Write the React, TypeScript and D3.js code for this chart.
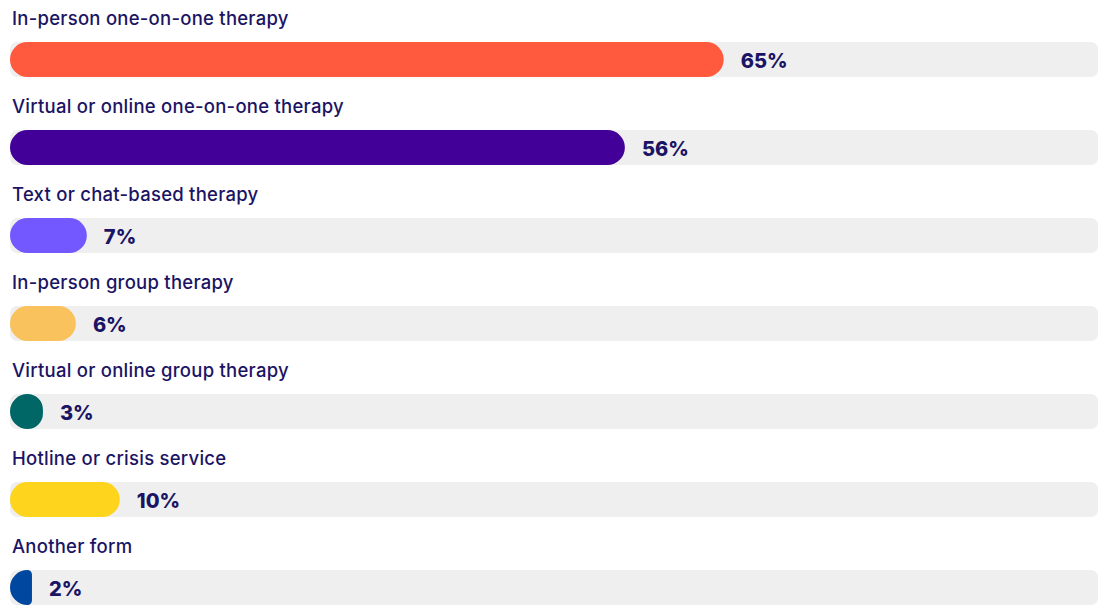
import React from "react";
import * as d3 from "d3";

const categories = [
  "In-person one-on-one therapy",
  "Virtual or online one-on-one therapy",
  "Text or chat-based therapy",
  "In-person group therapy",
  "Virtual or online group therapy",
  "Hotline or crisis service",
  "Another form",
];
const values = [65, 56, 7, 6, 3, 10, 2];
const colors = ["#ff5a3d", "#420099", "#7357ff", "#fac25c", "#006666", "#ffd41c", "#0047a0"];

const width = 1101;
const height = 605;
const barH = 35;
const textColor = "#1b1464";

// rounded bar: left end full round, right end takes what's left
function barPath(x0: number, y: number, w: number, h: number) {
  const rl = Math.min(h / 2, w);
  const rr = Math.max(0, Math.min(h / 2, w - rl));
  const x1 = x0 + w;
  const p = d3.path();
  p.moveTo(x0 + rl, y);
  p.lineTo(x1 - rr, y);
  if (rr > 0) p.arcTo(x1, y, x1, y + rr, rr);
  p.lineTo(x1, y + h - rr);
  if (rr > 0) p.arcTo(x1, y + h, x1 - rr, y + h, rr);
  p.lineTo(x0 + rl, y + h);
  p.arcTo(x0, y + h, x0, y + h - rl, rl);
  p.lineTo(x0, y + rl);
  p.arcTo(x0, y, x0 + rl, y, rl);
  p.closePath();
  return p.toString();
}

export default function App() {
  const x = d3.scaleLinear().domain([0, 100]).range([10, 1108]);
  const y = d3.scaleBand().domain(categories).range([0, 88 * categories.length]).padding(0);

  return (
    <svg width={width} height={height} style={{ position: "absolute", left: 0, top: 0, background: "#fff" }}
      fontFamily="Inter, 'Noto Sans', sans-serif">
      {categories.map((c, i) => {
        const top = y(c)!;
        const barY = top + 42;
        const v = values[i];
        const w = x(v) - x(0);
        return (
          <g key={c}>
            <text x={12} y={top + 25} fontSize={18.5} fontWeight={500} letterSpacing={0.25} fill={textColor}>{c}</text>
            <rect x={x(0)} y={barY} width={1098 - x(0)} height={barH} rx={7} fill="#efefef" />
            <path d={barPath(x(0), barY, w, barH)} fill={colors[i]} />
            <text x={x(v) + 17} y={barY + barH / 2 + 8} fontSize={20} fontWeight={800} fill={textColor}>
              {v}%
            </text>
          </g>
        );
      })}
    </svg>
  );
}
